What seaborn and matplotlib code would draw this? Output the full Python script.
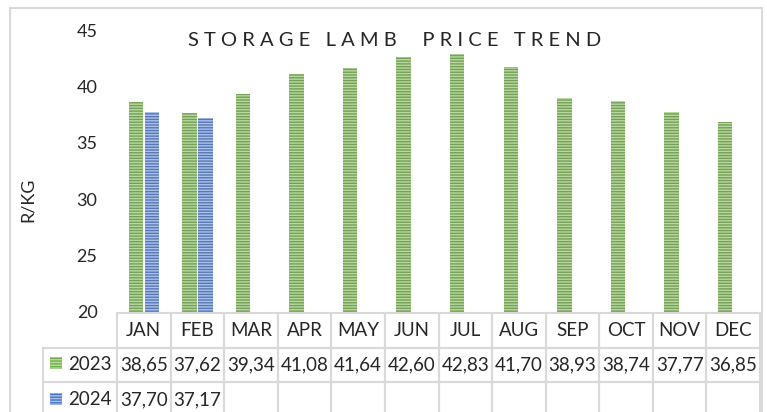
import pandas as pd
import seaborn as sns
import matplotlib.pyplot as plt
from matplotlib.patches import Rectangle

# Data
months = ['JAN', 'FEB', 'MAR', 'APR', 'MAY', 'JUN', 'JUL', 'AUG', 'SEP', 'OCT', 'NOV', 'DEC']
price_2023 = [38.65, 37.62, 39.34, 41.08, 41.64, 42.60, 42.83, 41.70, 38.93, 38.74, 37.77, 36.85]
price_2024 = [37.70, 37.17, None, None, None, None, None, None, None, None, None, None]
years = ['2023', '2024']
y_ticks = [20, 25, 30, 35, 40, 45]

green = '#70ad47'
blue = '#4472c4'
green_light = '#b8d9a0'
blue_light = '#adc2ea'
grid_grey = '#d9d9d9'

# Long form table for seaborn
df = pd.DataFrame({
    'Month': months * 2,
    'Year': ['2023'] * 12 + ['2024'] * 12,
    'Price': price_2023 + price_2024,
})

sns.set_style('white')
plt.rcParams['font.family'] = ['Lato', 'DejaVu Sans']

W, H = 767, 412
fig = plt.figure(figsize=(W / 100, H / 100), dpi=100)
# plot area in pixels: x 117..760, y 30..312 (from top)
ax = fig.add_axes([117 / W, (H - 312) / H, 643 / W, 282 / H])

sns.barplot(data=df, x='Month', y='Price', hue='Year', order=months,
            hue_order=years, palette=[green, blue], width=0.6, gap=0.1,
            legend=False, ax=ax)

# striped fill like the original
for bar_group, light in zip(ax.containers, [green_light, blue_light]):
    for p in bar_group:
        p.set_hatch('------')
        p.set_edgecolor(light)
        p.set_linewidth(0)

ax.set_ylim(20, 45)
ax.set_xlim(-0.5, 11.5)
ax.set_yticks(y_ticks)
ax.set_yticklabels([str(t) for t in y_ticks], fontsize=13)
ax.tick_params(axis='y', length=0, pad=14)
ax.set_xticks([])
ax.set_xlabel('')
ax.set_ylabel('R/KG', fontsize=13)
ax.yaxis.set_label_coords((36 - 117) / 643, (312 - 200) / 282)
sns.despine(ax=ax, left=True, bottom=True)

# data table under the bars, first column holds the series names
fmt = lambda v: f'{v:.2f}'.replace('.', ',') if v is not None else ''
cell_text = [[years[0]] + [fmt(v) for v in price_2023],
             [years[1]] + [fmt(v) for v in price_2024]]
col_w = 1 / 12
row_label_w = 74 / 643
tbl = ax.table(cellText=cell_text, colLabels=[''] + months,
               colWidths=[row_label_w] + [col_w] * 12,
               cellLoc='center', colLoc='center',
               bbox=[-row_label_w, -(417 - 312) / 282, 1 + row_label_w, 104 / 282])
tbl.auto_set_font_size(False)
tbl.set_fontsize(13.5)
for (r, c), cell in tbl.get_celld().items():
    cell.set_edgecolor(grid_grey)
    cell.set_linewidth(1.5)
    cell.set_facecolor('none')
    if c == 0:
        if r == 0:
            cell.visible_edges = ''
        else:
            cell.get_text().set_horizontalalignment('right')
            cell._loc = 'right'
            cell.PAD = 0.07

# legend keys inside the row label cells
for y_top, face, light in [(357, green, green_light), (393, blue, blue_light)]:
    fig.add_artist(Rectangle((50 / W, (H - y_top - 12) / H), 12 / W, 12 / H,
                             transform=fig.transFigure, facecolor=face,
                             edgecolor=light, hatch='------', linewidth=0))

# chart frame
fig.add_artist(Rectangle((10 / W, -0.05), 752 / W, (H - 8) / H + 0.05,
                         transform=fig.transFigure, facecolor='none',
                         edgecolor=grid_grey, linewidth=1.5))

fig.text(395 / W, (H - 40) / H, 'S T O R A G E   L A M B     P R I C E   T R E N D',
         ha='center', va='center', fontsize=14.5)

fig.savefig('out.png', dpi=100)
